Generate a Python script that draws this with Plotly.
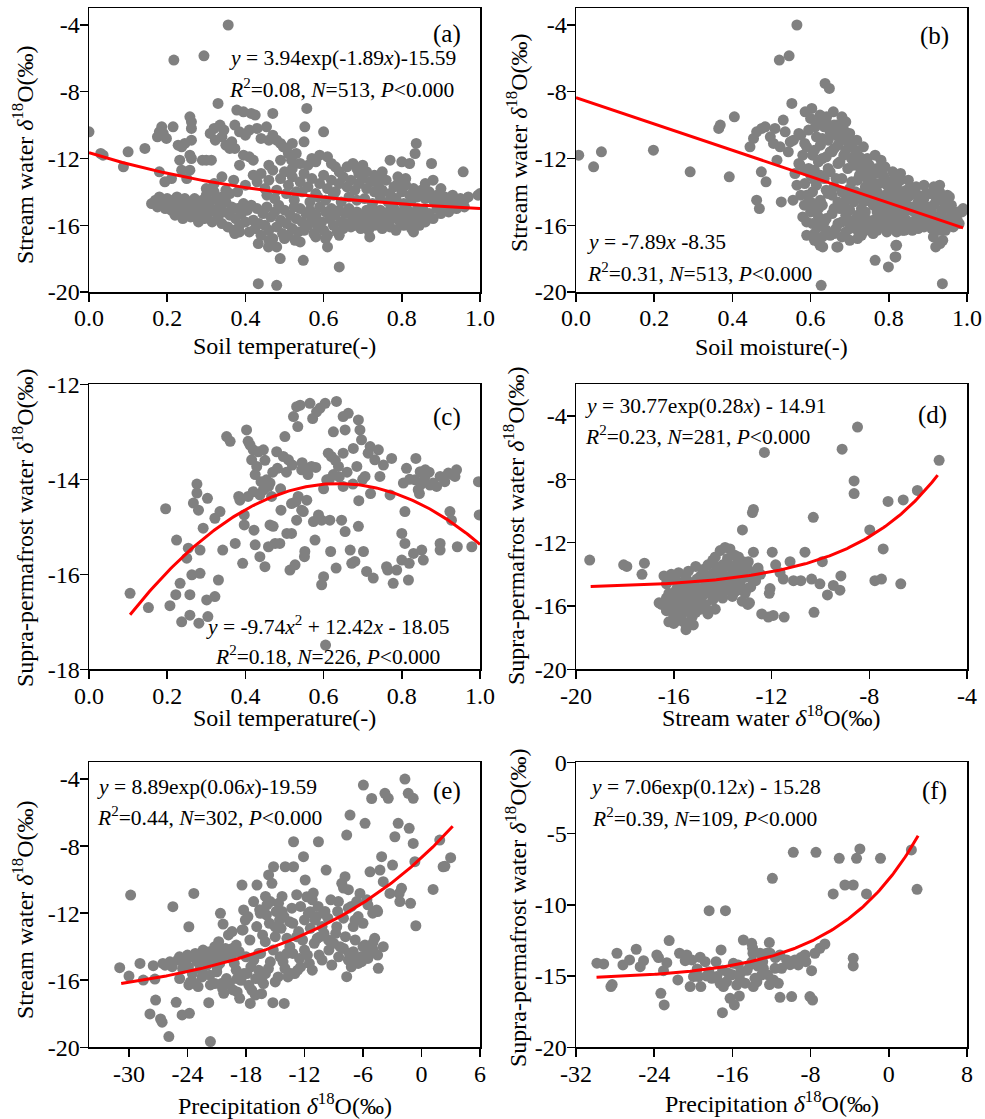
import numpy as np
import plotly.graph_objects as go

W, H = 985, 1119
FONT = "Liberation Serif"

# ---------------- data ----------------
# (a) Soil temperature vs stream water d18O
a_pts = [
(0.0,-10.4),(0.03,-11.7),(0.036,-11.8),(0.10,-11.6),(0.088,-12.5),(0.143,-11.4),
(0.356,-4.0),(0.217,-6.1),(0.294,-5.85),
(0.33,-8.7),(0.378,-9.1),(0.395,-9.2),(0.415,-9.3),(0.425,-9.4),(0.47,-9.3),(0.557,-9.0),
(0.258,-9.5),(0.262,-9.8),(0.262,-10.2),(0.186,-10.1),(0.18,-10.4),(0.175,-10.7),(0.198,-10.8),(0.215,-10.1),(0.19,-10.5),
(0.31,-10.5),(0.32,-10.2),(0.335,-10.0),(0.345,-10.3),(0.34,-10.7),(0.323,-10.9),(0.35,-11.2),(0.36,-11.4),(0.373,-11.4),(0.365,-11.0),
(0.373,-10.0),(0.385,-10.4),(0.40,-10.6),(0.41,-10.3),(0.43,-10.2),(0.44,-10.8),(0.454,-10.1),(0.46,-10.9),(0.47,-10.6),(0.48,-10.9),
(0.49,-11.1),(0.497,-11.3),(0.505,-11.4),(0.51,-11.7),(0.52,-11.1),(0.53,-11.7),(0.518,-12.1),(0.54,-12.3),(0.55,-11.0),
(0.552,-10.1),(0.60,-10.4),(0.228,-11.2),(0.237,-11.3),(0.245,-11.1),(0.262,-10.9),(0.258,-11.8),(0.232,-12.1),(0.262,-12.0),
(0.30,-12.1),(0.29,-12.1),(0.313,-12.1),(0.395,-11.8),(0.41,-11.9),(0.42,-12.1),(0.385,-12.4),
(0.57,-12.0),(0.58,-12.2),(0.56,-12.4),(0.59,-11.8),(0.61,-11.9),(0.62,-12.3),(0.63,-12.5),
(0.675,-12.3),(0.685,-12.6),(0.69,-12.9),(0.70,-12.4),(0.744,-13.2),(0.77,-12.1),(0.80,-12.2),(0.82,-12.3),(0.834,-11.7),(0.837,-11.1),
(0.876,-12.3),(0.957,-12.8),(0.995,-14.2),(1.0,-14.1),
(0.18,-12.8),(0.194,-13.4),(0.211,-13.2),(0.237,-12.7),(0.258,-12.7),(0.25,-13.2),
(0.30,-13.8),(0.32,-13.5),(0.34,-13.1),(0.35,-13.9),(0.37,-13.3),(0.38,-14.0),(0.40,-13.6),(0.42,-13.0),(0.43,-13.4),(0.44,-12.9),
(0.45,-13.8),(0.46,-13.3),(0.47,-12.7),(0.48,-13.9),(0.49,-13.2),(0.50,-12.8),(0.51,-13.6),(0.52,-13.1),(0.53,-14.0),(0.54,-13.4),
(0.55,-12.9),(0.56,-13.7),(0.57,-13.2),(0.58,-14.1),(0.59,-13.5),(0.60,-13.0),(0.61,-13.8),(0.62,-13.3),(0.63,-14.0),(0.64,-13.5),
(0.65,-13.1),(0.66,-13.7),(0.67,-13.3),(0.68,-13.9),(0.69,-13.5),(0.70,-13.2),(0.71,-13.8),(0.72,-13.4),(0.73,-14.0),(0.74,-13.6),
(0.75,-13.9),(0.76,-13.3),(0.77,-14.1),(0.78,-13.7),(0.79,-13.5),(0.80,-14.0),(0.81,-13.6),(0.82,-14.2),(0.83,-13.8),(0.84,-14.3),
(0.85,-13.9),(0.86,-14.4),(0.87,-14.0),(0.88,-14.5),(0.89,-14.2),(0.90,-14.6),(0.91,-14.3),(0.92,-14.5),(0.93,-14.2),(0.94,-14.6),
(0.95,-14.4),(0.96,-14.5),(0.97,-14.3),
(0.455,-14.2),(0.475,-14.4),(0.505,-14.1),(0.525,-14.5),(0.545,-14.0),(0.565,-14.6),(0.585,-14.3),(0.605,-14.5),(0.625,-14.2),
(0.645,-14.6),(0.665,-14.3),(0.685,-14.5),(0.705,-14.4),(0.725,-14.7),(0.745,-14.3),(0.765,-14.6),(0.785,-14.4),(0.805,-14.7),(0.825,-14.5),
(0.46,-12.4),(0.49,-12.1),(0.52,-12.6),(0.64,-12.8),(0.66,-12.5),(0.71,-12.8),(0.73,-13.0),(0.75,-12.8),(0.79,-13.1),(0.81,-13.2),
(0.86,-13.5),(0.88,-13.3),(0.90,-13.8),
(0.16,-14.7),(0.17,-14.5),(0.175,-14.9),(0.18,-14.3),(0.19,-14.7),(0.195,-15.0),(0.20,-14.4),(0.205,-14.8),(0.21,-15.1),(0.215,-14.5),
(0.22,-14.9),(0.225,-14.3),(0.23,-15.2),(0.235,-14.6),(0.24,-15.0),(0.245,-14.4),(0.25,-14.8),(0.255,-15.3),(0.26,-14.6),(0.265,-15.0),
(0.27,-14.4),(0.275,-15.5),(0.28,-14.8),(0.285,-15.2),(0.29,-14.5),(0.295,-15.6),(0.30,-14.9),(0.305,-15.3),(0.31,-14.6),(0.315,-15.8),
(0.32,-15.1),(0.325,-14.4),(0.33,-15.5),(0.335,-14.8),(0.34,-15.9),(0.345,-15.2),(0.35,-14.6),(0.355,-16.1),(0.36,-15.4),(0.365,-14.9),
(0.37,-16.3),(0.375,-15.6),(0.38,-15.0),(0.385,-16.0),(0.39,-15.3),(0.395,-14.7),(0.40,-15.8),
(0.22,-15.4),(0.24,-15.6),(0.26,-15.5),(0.28,-15.8),(0.30,-14.2),(0.32,-14.0),(0.34,-14.3),(0.36,-14.1),
(0.405,-15.1),(0.41,-16.4),(0.415,-14.8),(0.42,-15.7),(0.425,-16.2),(0.43,-15.0),(0.435,-15.9),(0.44,-16.6),(0.445,-15.3),(0.45,-16.0),
(0.455,-14.9),(0.46,-16.3),(0.465,-15.5),(0.47,-16.8),(0.475,-15.2),(0.48,-16.1),(0.485,-14.8),(0.49,-15.7),(0.495,-16.5),(0.50,-15.1),
(0.505,-15.9),(0.51,-16.6),(0.515,-15.4),(0.52,-16.2),(0.525,-14.9),(0.53,-15.6),(0.535,-16.4),(0.54,-15.0),(0.545,-15.8),(0.55,-16.3),
(0.555,-15.3),(0.56,-16.0),(0.565,-15.1),(0.57,-15.7),(0.575,-16.5),(0.58,-15.4),(0.585,-16.1),(0.59,-14.9),(0.595,-15.8),(0.60,-16.3),
(0.605,-15.2),(0.61,-16.6),(0.615,-15.6),(0.62,-15.0),(0.625,-16.0),(0.63,-15.4),(0.635,-16.4),(0.64,-15.1),(0.645,-15.8),(0.65,-16.2),
(0.655,-15.3),(0.66,-15.9),(0.665,-15.0),(0.67,-16.1),(0.675,-15.5),(0.68,-16.0),(0.685,-15.2),(0.69,-15.8),(0.695,-16.2),(0.70,-15.4),
(0.705,-15.9),(0.71,-15.1),(0.715,-16.3),(0.72,-15.6),(0.725,-15.0),(0.73,-16.0),(0.735,-15.4),(0.74,-15.8),(0.745,-15.1),(0.75,-16.2),
(0.755,-15.5),(0.76,-15.9),(0.765,-15.2),(0.77,-16.1),(0.775,-15.6),(0.78,-15.0),(0.785,-16.3),(0.79,-15.4),(0.795,-15.8),(0.80,-15.2),
(0.805,-16.0),(0.81,-15.5),(0.815,-15.1),(0.82,-15.8),(0.825,-16.2),(0.83,-15.3),(0.835,-15.7),(0.84,-15.0),(0.845,-16.0),(0.85,-15.4),
(0.855,-15.1),(0.86,-15.8),(0.87,-15.3),(0.88,-15.6),(0.89,-15.0),(0.90,-15.3),(0.91,-14.9),(0.92,-15.2),(0.93,-14.8),(0.94,-15.0),
(0.95,-14.7),(0.96,-14.9),
(0.433,-17.1),(0.433,-19.5),(0.48,-19.6),(0.489,-18.0),(0.548,-18.1),(0.64,-18.5),(0.61,-17.3),(0.605,-16.8),(0.527,-16.9),(0.459,-17.3),
(0.48,-17.3),(0.373,-16.5),(0.385,-16.4),(0.54,-17.0),(0.718,-16.7),(0.83,-16.4),(0.46,-16.9),(0.50,-16.8),(0.58,-16.7),(0.64,-16.6),
]

# (b) Soil moisture vs stream water d18O
b_pts = [
(0.565,-4.0),(0.52,-6.1),(0.545,-5.85),(0.637,-7.5),(0.648,-7.8),(0.552,-8.7),(0.007,-11.8),(0.045,-12.5),(0.065,-11.6),(0.198,-11.5),
(0.292,-12.8),(0.392,-13.1),(0.365,-10.2),(0.369,-10.0),(0.405,-9.5),(0.462,-14.5),(0.469,-15.0),(0.474,-12.8),(0.486,-13.4),(0.525,-14.6),
(0.555,-14.5),(0.584,-14.8),(0.765,-18.1),(0.799,-18.5),(0.818,-17.9),(0.818,-17.2),(0.631,-17.3),(0.667,-17.3),(0.627,-19.6),(0.937,-19.5),
(0.92,-17.3),(0.938,-16.9),
(0.445,-11.3),(0.454,-10.8),(0.462,-10.4),(0.475,-10.2),(0.484,-10.1),(0.497,-10.7),(0.509,-10.2),(0.53,-9.7),(0.535,-10.4),(0.505,-11.1),
(0.522,-11.3),(0.514,-12.1),(0.543,-11.6),(0.548,-11.0),(0.556,-10.9),(0.57,-10.5),(0.586,-9.2),(0.603,-9.0),(0.59,-11.3),(0.573,-12.4),
(0.586,-12.7),(0.612,-10.1),(0.624,-9.4),(0.641,-9.5),(0.658,-9.2),(0.68,-9.5),(0.667,-10.0),(0.68,-10.4),(0.692,-10.9),(0.718,-10.9),
(0.58,-11.8),(0.585,-13.5),(0.59,-14.2),(0.595,-12.6),(0.60,-13.0),(0.60,-15.2),(0.605,-14.0),(0.61,-11.5),(0.61,-16.5),(0.615,-13.6),
(0.62,-12.2),(0.62,-15.0),(0.625,-14.5),(0.63,-10.8),(0.63,-16.7),(0.635,-13.2),(0.64,-11.9),(0.64,-15.6),
(0.645,-14.1),(0.65,-10.4),(0.65,-12.8),(0.655,-15.3),(0.66,-11.4),(0.66,-13.7),(0.665,-16.2),(0.67,-12.3),(0.67,-14.6),(0.675,-10.9),
(0.68,-13.2),(0.68,-15.8),(0.685,-11.8),(0.69,-14.2),(0.69,-16.4),(0.695,-12.6),(0.70,-13.8),(0.70,-15.1),
(0.705,-11.3),(0.71,-14.6),(0.71,-12.4),(0.715,-16.0),(0.72,-13.3),(0.72,-15.4),(0.725,-11.9),(0.73,-14.1),(0.73,-16.6),(0.735,-12.8),
(0.74,-13.7),(0.74,-15.2),(0.745,-14.5),(0.75,-12.4),(0.75,-16.1),(0.755,-13.3),(0.76,-14.8),(0.76,-15.7),
(0.765,-12.9),(0.77,-14.0),(0.77,-16.3),(0.775,-13.5),(0.78,-15.1),(0.78,-12.1),(0.785,-14.4),(0.79,-15.9),(0.79,-13.2),(0.795,-14.8),
(0.80,-13.7),(0.80,-16.2),(0.805,-15.3),(0.81,-14.1),(0.81,-12.8),(0.815,-15.7),(0.82,-13.6),(0.82,-14.9),(0.825,-16.0),(0.83,-14.3),
(0.83,-13.3),(0.835,-15.4),(0.84,-14.6),(0.84,-16.3),(0.845,-13.9),(0.85,-15.1),
(0.855,-14.2),(0.86,-15.8),(0.865,-13.8),(0.87,-15.0),(0.875,-16.2),(0.88,-14.4),(0.885,-15.5),(0.89,-13.6),(0.895,-14.9),(0.90,-16.0),
(0.905,-14.1),(0.91,-15.3),(0.915,-13.7),(0.92,-14.6),(0.925,-15.8),(0.93,-14.0),(0.935,-15.1),(0.94,-14.4),(0.945,-16.3),(0.95,-15.0),
(0.955,-15.6),(0.96,-14.8),(0.965,-16.1),(0.975,-15.7),(0.987,-15.2),(0.99,-15.0),
(0.59,-15.8),(0.60,-14.6),(0.61,-13.3),(0.62,-16.1),(0.63,-14.8),(0.64,-13.9),(0.65,-16.6),(0.66,-15.0),(0.67,-15.9),(0.68,-14.0),
(0.69,-15.4),(0.70,-14.4),(0.71,-15.7),(0.72,-14.2),(0.73,-15.0),(0.74,-16.3),(0.75,-14.0),(0.76,-13.6),(0.77,-15.2),(0.78,-16.0),
(0.79,-14.2),(0.80,-15.0),(0.81,-16.1),(0.82,-15.5),(0.83,-16.2),(0.84,-15.2),(0.85,-14.3),(0.86,-14.9),(0.87,-14.1),(0.88,-15.9),
(0.89,-16.1),(0.90,-15.0),(0.91,-16.2),(0.92,-15.5),(0.93,-16.3),(0.94,-15.6),(0.95,-14.2),(0.96,-15.5),
(0.725,-13.0),(0.745,-13.2),(0.765,-14.3),(0.785,-13.0),(0.805,-14.4),(0.825,-15.0),(0.845,-15.7),(0.865,-16.0),(0.885,-14.7),(0.905,-15.6),
(0.775,-15.6),(0.795,-16.4),(0.815,-14.4),(0.835,-14.0),(0.855,-15.9),(0.875,-14.6),(0.895,-15.3),(0.915,-14.8),(0.935,-14.5),(0.955,-14.3),
(0.575,-10.6),(0.585,-11.1),(0.595,-10.3),(0.605,-11.8),(0.615,-10.7),(0.625,-11.2),(0.635,-10.1),(0.645,-10.9),(0.655,-11.6),(0.665,-10.6),
(0.675,-12.2),(0.685,-10.3),(0.695,-11.0),(0.705,-12.0),(0.715,-11.5),(0.725,-12.5),(0.735,-11.3),(0.745,-12.0),(0.755,-12.7),(0.765,-11.8),
(0.60,-9.6),(0.62,-9.9),(0.64,-9.8),(0.66,-10.0),(0.69,-9.8),(0.70,-10.5),
(0.59,-16.6),(0.61,-16.9),(0.62,-17.0),(0.624,-17.2),(0.67,-17.3),(0.70,-16.9),(0.72,-16.8),(0.816,-17.9),(0.82,-17.2),(0.914,-16.7),
(0.931,-17.1),(0.56,-12.9),(0.565,-13.6),(0.575,-14.2),(0.58,-15.5),(0.57,-12.3),
(0.605,-15.9),(0.615,-14.9),(0.625,-13.0),(0.635,-15.8),(0.645,-12.6),(0.655,-14.2),(0.665,-13.2),(0.675,-15.0),(0.685,-14.7),(0.695,-15.8),
(0.705,-13.4),(0.715,-14.0),(0.725,-15.9),(0.735,-14.6),(0.745,-15.7),(0.755,-14.6),(0.765,-16.0),(0.775,-14.8),(0.785,-15.6),(0.795,-13.6),
(0.805,-16.0),(0.815,-13.2),(0.825,-14.2),(0.835,-16.3),(0.845,-14.8),(0.855,-13.7),(0.865,-15.2),(0.875,-15.7),(0.885,-16.0),(0.895,-14.1),
(0.905,-14.9),(0.915,-16.0),(0.925,-14.3),(0.935,-15.8),(0.945,-15.0),(0.955,-16.0),(0.965,-15.3),(0.975,-15.2),(0.98,-15.9),
(0.61,-12.7),(0.63,-12.0),(0.65,-11.6),(0.67,-11.2),(0.69,-11.5),(0.71,-11.9),(0.73,-12.3),(0.75,-13.1),(0.77,-12.6),(0.79,-12.5),
(0.81,-13.4),(0.83,-12.9),(0.85,-13.3),(0.87,-13.7),(0.89,-14.4),(0.91,-14.1),(0.93,-13.6),
(0.62,-15.5),(0.64,-16.3),(0.66,-16.5),(0.68,-16.7),(0.70,-16.2),(0.72,-16.3),(0.74,-15.6),(0.76,-16.5),(0.78,-15.4),(0.80,-15.5),
(0.82,-16.4),(0.84,-15.7),(0.86,-16.3),(0.88,-15.2),(0.90,-15.4),(0.92,-16.1),
]

# (c) Soil temperature vs supra-permafrost water d18O
c_pts = [
(0.105,-16.4),(0.152,-16.7),(0.196,-14.62),(0.207,-16.66),(0.224,-15.28),(0.222,-16.43),(0.233,-16.19),(0.237,-17.0),(0.25,-15.66),(0.254,-15.45),
(0.258,-16.43),(0.258,-16.86),(0.263,-16.01),(0.267,-14.5),(0.276,-14.29),(0.276,-14.1),(0.28,-14.65),(0.284,-15.98),(0.281,-17.03),(0.292,-15.03),
(0.303,-14.4),(0.301,-16.54),(0.304,-16.89),(0.322,-14.82),(0.322,-16.47),(0.331,-16.12),(0.335,-14.68),(0.342,-15.49),(0.352,-13.1),(0.361,-13.2),
(0.374,-15.35),(0.383,-14.36),(0.386,-14.44),(0.393,-15.77),(0.397,-14.75),(0.397,-14.96),(0.403,-12.96),(0.407,-13.2),(0.412,-13.28),(0.416,-13.59),
(0.42,-13.38),(0.422,-15.07),(0.425,-15.38),(0.429,-13.73),(0.433,-13.42),(0.437,-15.63),(0.446,-14.22),(0.446,-13.38),(0.45,-15.84),(0.454,-14.01),
(0.459,-15.42),(0.463,-14.96),(0.463,-14.08),(0.471,-14.99),(0.476,-15.35),(0.48,-13.42),(0.482,-13.77),(0.488,-15.35),(0.491,-14.65),(0.497,-13.52),
(0.501,-13.1),(0.506,-15.14),(0.51,-13.59),(0.514,-15.91),(0.518,-15.14),(0.523,-12.68),(0.527,-15.8),(0.529,-14.47),(0.531,-12.47),(0.534,-12.89),
(0.54,-12.44),(0.544,-13.8),(0.548,-14.68),(0.551,-15.63),(0.552,-15.52),(0.557,-13.77),(0.557,-14.44),(0.565,-12.4),(0.569,-13.73),(0.572,-12.72),
(0.574,-14.89),(0.578,-15.28),(0.582,-12.58),(0.587,-14.75),(0.591,-12.5),(0.595,-14.86),(0.595,-16.22),(0.6,-16.05),(0.604,-12.4),(0.608,-14.01),
(0.612,-13.45),(0.616,-14.86),(0.618,-15.52),(0.62,-13.52),(0.625,-13.0),(0.632,-15.87),(0.633,-12.36),(0.638,-13.73),(0.646,-14.86),(0.65,-14.15),
(0.65,-13.45),(0.65,-12.68),(0.655,-12.96),(0.655,-15.1),(0.663,-12.61),(0.668,-15.49),(0.672,-15.77),(0.676,-13.35),(0.68,-15.73),(0.685,-13.73),
(0.689,-12.75),(0.689,-14.99),(0.693,-12.96),(0.697,-13.17),(0.702,-15.52),(0.706,-13.94),(0.71,-15.94),(0.714,-13.45),(0.719,-13.31),(0.727,-16.08),
(0.731,-13.59),(0.74,-13.38),(0.744,-13.94),(0.753,-13.7),(0.761,-15.84),(0.764,-15.91),(0.77,-14.33),(0.774,-13.56),(0.778,-16.19),(0.787,-15.91),
(0.8,-15.14),(0.8,-15.7),(0.804,-14.08),(0.808,-15.35),(0.808,-14.68),(0.812,-13.77),(0.817,-16.12),(0.819,-15.77),(0.83,-15.56),(0.834,-14.01),
(0.836,-13.56),(0.842,-14.22),(0.847,-13.84),(0.851,-15.49),(0.855,-15.7),(0.859,-13.94),(0.86,-13.8),(0.872,-14.12),(0.88,-14.08),(0.889,-14.15),
(0.898,-13.94),(0.898,-15.35),(0.898,-15.49),(0.919,-13.87),(0.923,-14.68),(0.927,-14.86),(0.936,-13.94),(0.94,-13.8),(0.942,-15.42),(0.979,-15.42),
(0.996,-14.05),(0.998,-14.75),(0.605,-17.49),
(0.407,-14.36),(0.42,-14.26),(0.437,-14.33),(0.459,-14.15),(0.467,-14.36),(0.518,-14.51),(0.535,-14.36),(0.544,-14.65),(0.531,-14.86),(0.284,-15.49),
(0.425,-13.9),(0.44,-14.05),(0.45,-13.6),(0.47,-13.85),(0.49,-14.2),(0.505,-13.85),(0.52,-13.7),(0.545,-13.65),(0.56,-13.9),(0.58,-13.75),
(0.63,-13.6),(0.64,-13.95),(0.66,-13.85),(0.675,-14.1),(0.7,-14.0),(0.72,-14.3),(0.69,-14.45),(0.82,-14.0),(0.85,-14.1),(0.87,-13.85),
(0.91,-14.05),(0.93,-13.9),(0.845,-14.3),(0.6,-14.2),(0.615,-14.0),(0.625,-13.9),
]

# (d) Stream water vs supra-permafrost water d18O
d_pts = [
(-19.44,-13.1),(-18.05,-13.4),(-17.92,-13.5),(-17.2,-13.3),(-17.3,-14.0),(-12.29,-6.3),(-8.48,-4.7),(-9.11,-6.1),(-8.62,-8.1),(-8.62,-8.9),
(-5.14,-6.8),(-6.03,-8.7),(-6.61,-9.3),(-7.23,-9.4),(-7.98,-11.2),(-7.43,-12.4),(-7.77,-14.4),(-7.5,-14.3),(-6.71,-14.6),(-10.29,-10.4),
(-10.26,-16.4),(-10.63,-12.6),(-9.92,-13.2),(-9.16,-14.1),(-9.2,-15.0),(-9.47,-14.7),(-9.71,-15.3),(-10.02,-14.6),(-10.36,-14.3),(-10.8,-14.4),
(-11.24,-13.2),(-11.1,-14.4),(-11.52,-14.3),(-11.65,-13.9),(-11.83,-13.4),(-11.97,-12.6),(-12.06,-14.9),(-12.09,-15.2),(-11.93,-16.6),(-12.13,-16.7),
(-12.4,-16.5),(-11.48,-16.7),(-12.74,-9.9),(-12.78,-10.1),(-13.19,-11.2),(-12.74,-12.6),(-12.97,-15.9),(-13.08,-15.2),
(-16.6,-15.8),(-16.5,-15.9),(-16.4,-14.1),(-16.3,-14.6),(-16.3,-16.3),(-16.2,-17.0),(-16.2,-15.2),(-16.1,-14.0),(-16.0,-15.6),(-16.0,-16.6),
(-15.9,-14.4),(-15.9,-15.0),(-15.8,-16.1),(-15.8,-13.9),(-15.7,-15.4),(-15.7,-16.8),(-15.6,-14.6),(-15.6,-15.9),(-15.5,-17.5),(-15.5,-14.2),
(-15.5,-16.3),(-15.4,-15.1),(-15.4,-13.8),(-15.3,-17.05),(-15.3,-16.0),(-15.2,-14.5),(-15.2,-15.6),(-15.1,-13.5),(-15.1,-16.4),(-15.0,-14.9),
(-15.0,-15.8),(-14.9,-14.1),(-14.9,-16.2),(-14.8,-13.7),(-14.8,-15.3),(-14.7,-14.6),(-14.7,-15.9),(-14.6,-13.4),(-14.6,-16.3),(-14.5,-14.2),
(-14.5,-15.1),(-14.4,-13.1),(-14.4,-15.6),(-14.3,-14.6),(-14.3,-12.9),(-14.2,-15.2),(-14.2,-13.8),(-14.1,-12.5),(-14.1,-14.3),(-14.0,-15.5),
(-14.0,-13.4),(-13.9,-12.3),(-13.9,-14.8),(-13.8,-13.0),(-13.8,-15.0),(-13.7,-12.4),(-13.7,-14.1),(-13.6,-13.6),(-13.6,-15.4),(-13.5,-12.8),
(-13.5,-14.5),(-13.4,-13.3),(-13.4,-15.0),(-13.3,-13.9),(-13.3,-14.6),(-13.2,-13.6),(-13.2,-15.7),(-13.1,-14.2),(-13.0,-13.5),(-13.0,-14.9),
(-12.9,-13.8),(-12.9,-15.8),(-12.8,-14.3),
(-16.1,-15.9),(-15.95,-16.3),(-15.85,-14.8),(-15.75,-15.2),(-15.65,-16.5),(-15.45,-15.4),(-15.35,-14.7),(-15.25,-16.7),(-15.15,-15.0),(-15.05,-14.3),
(-14.95,-15.5),(-14.85,-16.0),(-14.75,-14.0),(-14.65,-15.0),(-14.55,-14.8),(-14.45,-14.0),(-14.35,-14.9),(-14.25,-13.5),(-14.15,-14.9),(-14.05,-13.9),
(-13.95,-13.6),(-13.85,-14.4),(-13.75,-13.4),(-13.65,-14.9),(-13.55,-13.9),(-13.45,-14.1),(-13.35,-12.9),(-13.25,-14.3),(-13.15,-13.2),(-13.05,-14.0),
(-12.95,-13.2),(-12.85,-14.8),(-12.75,-13.9),(-12.65,-14.4),(-12.55,-13.6),(-12.45,-14.0),
(-15.6,-17.0),(-15.2,-17.2),(-16.0,-17.1),(-15.8,-16.9),(-14.6,-16.5),(-14.3,-16.2),
(-16.3,-15.5),(-16.2,-14.4),(-15.9,-15.5),(-15.6,-15.1),(-15.3,-15.2),(-15.0,-15.2),(-14.7,-15.2),(-14.4,-14.4),(-14.1,-14.7),(-13.8,-14.7),
(-13.5,-15.1),
]

# (e) Precipitation vs stream water d18O
e_pts = [
(-30.95,-15.25),(-30.0,-15.75),(-29.83,-10.92),(-28.87,-15.0),(-28.53,-15.99),(-27.51,-15.13),(-27.34,-15.93),(-27.27,-17.18),(-27.85,-18.01),(-26.76,-18.31),
(-26.6,-18.5),(-26.52,-15.0),(-25.91,-19.36),(-25.57,-15.19),(-25.5,-11.61),(-25.16,-17.32),(-24.82,-14.6),(-24.55,-18.07),(-24.2,-14.69),(-23.86,-12.81),
(-23.8,-17.97),(-23.86,-16.28),(-23.6,-14.6),(-23.35,-10.82),(-23.25,-16.18),(-22.91,-16.38),(-22.74,-14.63),(-22.5,-15.39),(-21.82,-17.34),(-21.72,-14.3),
(-21.65,-16.28),(-21.65,-19.66),(-21.3,-14.9),(-20.97,-15.23),(-20.8,-14.5),(-20.62,-12.01),(-20.45,-16.18),(-20.35,-12.65),(-20.28,-16.78),(-20.11,-14.1),
(-19.6,-14.4),(-19.43,-13.1),(-19.33,-16.58),(-18.9,-15.9),(-18.75,-14.3),(-18.65,-17.08),(-18.41,-10.32),(-18.4,-13.0),(-18.24,-11.81),(-18.07,-12.41),
(-17.9,-15.6),(-17.56,-17.38),(-17.22,-11.31),(-17.04,-16.88),(-16.87,-10.32),(-16.7,-14.4),(-16.53,-12.01),(-16.4,-16.0),(-16.02,-13.7),(-15.85,-11.51),
(-15.68,-9.72),(-15.51,-11.31),(-15.34,-10.22),(-15.24,-17.34),(-15.17,-9.23),(-15.0,-12.81),(-14.66,-11.41),(-14.56,-12.41),(-14.3,-11.9),(-14.08,-17.38),
(-13.98,-9.23),(-13.8,-14.4),(-13.53,-12.51),(-13.4,-15.6),(-13.12,-9.23),(-13.12,-7.74),(-12.8,-13.4),(-12.4,-15.2),(-12.1,-8.63),(-11.93,-10.02),
(-11.76,-11.02),(-11.42,-11.91),(-11.2,-11.2),(-10.91,-12.41),(-10.57,-7.74),(-10.4,-13.4),(-10.05,-12.01),(-9.78,-9.43),(-9.54,-13.6),(-9.2,-15.09),
(-8.69,-12.81),(-8.52,-11.31),(-8.35,-14.0),(-8.18,-10.22),(-8.0,-10.5),(-7.84,-9.82),(-7.67,-7.34),(-7.67,-15.79),(-7.5,-10.6),(-7.4,-14.4),
(-7.33,-6.15),(-7.2,-11.6),(-7.0,-14.8),(-6.82,-12.41),(-6.65,-11.31),(-6.31,-10.82),(-6.14,-14.89),(-5.96,-4.36),(-5.79,-6.64),(-5.8,-14.0),
(-5.6,-11.2),(-5.45,-14.4),(-5.28,-9.53),(-5.11,-5.16),(-4.94,-14.2),(-4.6,-11.81),(-4.43,-15.29),(-4.26,-9.43),(-4.09,-8.63),(-3.92,-14.0),
(-3.92,-10.12),(-3.75,-4.85),(-3.41,-5.15),(-3.24,-10.82),(-2.97,-9.13),(-2.73,-7.44),(-2.39,-6.64),(-2.29,-10.82),(-2.22,-11.31),(-2.05,-10.52),
(-1.7,-4.0),(-1.36,-4.85),(-1.26,-6.94),(-1.12,-11.41),(-0.85,-5.15),(-0.85,-7.84),(-0.68,-8.93),(-0.58,-12.75),(1.19,-10.58),(1.87,-7.64),
(2.22,-9.23),(2.4,-9.2),(2.99,-8.69),
(-25.0,-14.8),(-24.5,-15.3),(-24.0,-14.5),(-23.5,-15.6),(-23.0,-14.9),(-22.5,-15.8),(-22.0,-15.1),(-21.5,-14.6),(-21.0,-15.5),(-20.5,-14.2),
(-20.0,-15.9),(-19.5,-14.7),(-19.0,-15.4),(-18.5,-16.0),(-18.0,-14.6),(-17.5,-15.2),(-17.0,-15.9),(-16.5,-14.4),(-16.0,-15.6),(-15.5,-14.9),
(-15.0,-16.1),(-14.5,-14.6),(-14.0,-15.3),(-13.5,-14.0),(-13.0,-15.6),(-12.5,-14.7),(-12.0,-14.2),(-11.5,-15.0),(-11.0,-13.8),(-10.5,-14.5),
(-10.0,-13.2),
(-24.8,-15.9),(-24.2,-14.9),(-23.7,-16.1),(-23.2,-14.4),(-22.7,-15.3),(-22.2,-14.7),(-21.7,-15.7),(-21.2,-16.2),(-20.7,-15.0),(-20.2,-14.6),
(-19.7,-16.2),(-19.2,-15.0),(-18.7,-14.3),(-18.2,-15.6),(-17.7,-16.3),(-17.2,-14.8),(-16.7,-15.4),(-16.2,-16.2),(-15.7,-15.3),(-15.2,-14.2),
(-14.7,-15.8),(-14.2,-14.9),(-13.7,-15.8),(-13.2,-14.4),(-12.7,-15.4),(-12.2,-13.6),(-11.7,-14.5),(-11.2,-15.4),(-10.7,-13.5),(-10.2,-14.8),
(-20.8,-13.7),(-19.8,-13.3),(-19.0,-13.9),(-18.3,-13.0),(-17.6,-13.6),(-16.9,-12.8),(-16.3,-13.3),(-15.6,-12.6),(-15.0,-13.4),(-14.4,-12.9),
(-13.8,-13.5),(-13.2,-12.6),(-12.6,-13.1),(-12.0,-12.4),(-11.4,-12.9),(-10.8,-12.2),(-10.2,-12.8),(-9.6,-12.3),(-17.8,-12.2),(-16.6,-11.8),
(-15.9,-12.1),(-14.9,-11.9),(-14.1,-12.2),(-13.3,-11.7),(-12.4,-11.6),(-11.6,-12.0),(-10.6,-11.6),(-9.9,-11.9),(-16.0,-11.0),(-14.3,-11.0),
(-12.8,-10.9),(-11.1,-10.8),(-9.3,-11.2),(-8.6,-11.9),(-8.0,-12.3),(-7.5,-11.7),(-7.0,-12.8),(-6.5,-12.2),(-6.0,-12.6),(-5.5,-11.5),
(-5.0,-12.0),(-4.5,-11.9),
(-9.5,-14.2),(-9.0,-13.8),(-8.5,-14.6),(-8.0,-14.1),(-7.5,-14.8),(-7.0,-14.3),(-6.5,-15.0),(-6.0,-14.0),(-5.5,-14.7),(-5.0,-13.8),
(-4.5,-14.5),(-8.8,-13.2),(-7.8,-13.4),(-6.8,-13.6),(-5.8,-13.9),(-4.8,-13.5),(-6.2,-14.6),(-7.2,-15.2),(-5.2,-14.2),
(-22.4,-14.2),(-21.2,-14.0),(-19.4,-14.1),(-25.8,-14.9),(-26.3,-15.1),(-23.9,-15.2),(-17.4,-16.6),(-16.4,-16.8),(-18.9,-16.7),(-20.4,-16.5),
]

# (f) Precipitation vs supra-permafrost water d18O
f_pts = [
(-29.86,-14.1),(-29.17,-14.15),(-28.43,-15.74),(-28.3,-15.6),(-27.81,-13.4),(-27.2,-14.22),(-26.52,-13.87),(-25.84,-13.12),(-25.43,-14.34),(-25.09,-13.92),
(-23.73,-13.52),(-23.56,-13.7),(-23.32,-16.21),(-23.05,-14.62),(-22.98,-17.03),(-22.71,-14.06),(-22.47,-12.51),(-21.58,-15.27),(-21.41,-13.4),(-20.83,-13.92),
(-20.66,-13.52),(-20.32,-15.74),(-20.15,-13.87),(-19.98,-15.04),(-19.47,-15.04),(-19.3,-13.68),(-19.23,-15.74),(-18.79,-13.99),(-18.62,-15.0),(-18.38,-10.41),
(-18.11,-15.16),(-17.67,-13.99),(-17.6,-15.04),(-17.26,-15.51),(-17.16,-13.17),(-17.02,-17.57),(-16.92,-15.74),(-16.71,-10.41),(-16.41,-14.81),(-16.24,-16.56),
(-15.9,-14.11),(-15.8,-17.03),(-15.56,-15.63),(-15.4,-14.22),(-15.29,-16.4),(-15.15,-14.76),(-14.88,-12.47),(-14.2,-14.22),(-14.03,-12.7),(-13.93,-13.05),
(-13.86,-15.74),(-13.69,-15.16),(-13.17,-13.4),(-13.0,-14.92),(-12.83,-14.46),(-12.49,-13.4),(-12.22,-12.65),(-12.15,-13.4),(-11.91,-8.14),(-11.81,-15.27),
(-11.64,-14.46),(-11.3,-15.51),(-11.13,-16.49),(-10.96,-14.46),(-11.13,-13.52),(-10.45,-13.87),(-9.94,-16.44),(-9.77,-6.32),(-9.6,-13.87),(-9.26,-14.22),
(-8.58,-13.52),(-8.48,-13.99),(-8.07,-16.44),(-7.9,-14.62),(-7.8,-16.68),(-7.45,-6.32),(-7.56,-13.4),(-7.05,-13.05),(-6.54,-12.75),(-5.69,-9.24),
(-5.07,-6.74),(-4.49,-8.61),(-3.64,-8.61),(-3.64,-13.75),(-3.64,-14.29),(-3.3,-6.74),(-2.96,-6.08),(-2.28,-9.24),(-0.85,-6.74),(2.31,-6.15),
(2.89,-8.91),
(-14.5,-14.6),(-13.4,-14.3),(-14.0,-14.0),(-12.9,-14.0),(-15.2,-15.3),(-16.0,-14.9),(-17.0,-14.6),(-18.4,-14.7),(-19.6,-14.5),(-12.4,-14.9),
(-13.5,-15.4),(-14.7,-15.5),(-16.6,-15.4),(-12.2,-15.6),(-10.1,-14.2),(-9.0,-13.7),(-11.6,-13.7),(-13.9,-13.4),
]

# fitted curves drawn over the x-span seen in the picture
a_fit = dict(kind="exp", A=3.94, B=-1.89, C=-15.59, x0=0.0, x1=1.0)
b_fit = dict(kind="lin", m=-7.89, c=-8.35, x0=0.0, x1=0.99)
c_fit = dict(kind="quad", p2=-9.74, p1=12.42, p0=-18.05, x0=0.105, x1=1.0)
d_fit = dict(kind="exp", A=30.77, B=0.28, C=-14.91, x0=-19.4, x1=-5.2)
e_fit = dict(kind="exp", A=8.89, B=0.06, C=-17.59, x0=-30.8, x1=3.2)  # curve as drawn in the figure
f_fit = dict(kind="exp", A=7.06, B=0.12, C=-15.28, x0=-29.9, x1=3.0)

# axis ticks
t01 = [0, 0.2, 0.4, 0.6, 0.8, 1.0]
t01_txt = ["0.0", "0.2", "0.4", "0.6", "0.8", "1.0"]
y_20_4 = [-20, -16, -12, -8, -4]
y_20_4_txt = ["-20", "-16", "-12", "-8", "-4"]
y_c = [-18, -16, -14, -12]
y_c_txt = ["-18", "-16", "-14", "-12"]
x_e = [-30, -24, -18, -12, -6, 0, 6]
x_e_txt = ["-30", "-24", "-18", "-12", "-6", "0", "6"]
x_f = [-32, -24, -16, -8, 0, 8]
x_f_txt = ["-32", "-24", "-16", "-8", "0", "8"]
y_f = [-20, -15, -10, -5, 0]
y_f_txt = ["-20", "-15", "-10", "-5", "0"]

D18 = "<i>δ</i><sup>18</sup>O(‰)"
labels = ["(a)", "(b)", "(c)", "(d)", "(e)", "(f)"]
xtitles = ["Soil temperature(-)", "Soil moisture(-)", "Soil temperature(-)",
           "Stream water " + D18, "Precipitation " + D18, "Precipitation " + D18]
ytitles = ["Stream water " + D18, "Stream water " + D18,
           "Supra-permafrost water " + D18, "Supra-permafrost water " + D18,
           "Stream water " + D18, "Supra-permafrost water " + D18]
eq1 = ["<i>y</i> = 3.94exp(-1.89<i>x</i>)-15.59",
       "<i>y</i> = -7.89<i>x</i> -8.35",
       "<i>y</i> = -9.74<i>x</i><sup>2</sup> + 12.42<i>x</i> - 18.05",
       "<i>y</i> = 30.77exp(0.28<i>x</i>) - 14.91",
       "<i>y</i> = 8.89exp(0.06<i>x</i>)-19.59",
       "<i>y</i> = 7.06exp(0.12<i>x</i>) - 15.28"]
eq2 = ["<i>R</i><sup>2</sup>=0.08, <i>N</i>=513, <i>P</i>&lt;0.000",
       "<i>R</i><sup>2</sup>=0.31, <i>N</i>=513, <i>P</i>&lt;0.000",
       "<i>R</i><sup>2</sup>=0.18, <i>N</i>=226, <i>P</i>&lt;0.000",
       "<i>R</i><sup>2</sup>=0.23, <i>N</i>=281, <i>P</i>&lt;0.000",
       "<i>R</i><sup>2</sup>=0.44, <i>N</i>=302, <i>P</i>&lt;0.000",
       "<i>R</i><sup>2</sup>=0.39, <i>N</i>=109, <i>P</i>&lt;0.000"]

# ---------------- layout (pixel geometry) ----------------
COLS = [(89, 480), (576, 967)]
ROWS = [(8.3, 292), (384.3, 669.3), (762.3, 1047.3)]

panels = [
    dict(pts=a_pts, fit=a_fit, xr=[0, 1], yr=[-20, -3], xt=(t01, t01_txt), yt=(y_20_4, y_20_4_txt), r=0, c=0,
         e1=(227, 58, "left"), e2=(227, 88.5, "left"), lab=(446.5, 34), xtitle_y=346, ytitle=(23, 155)),
    dict(pts=b_pts, fit=b_fit, xr=[0, 1], yr=[-20, -3], xt=(t01, t01_txt), yt=(y_20_4, y_20_4_txt), r=0, c=1,
         e1=(585, 242, "left"), e2=(585, 273, "left"), lab=(934.5, 36), xtitle_y=347, ytitle=(517, 143)),
    dict(pts=c_pts, fit=c_fit, xr=[0, 1], yr=[-18, -12], xt=(t01, t01_txt), yt=(y_c, y_c_txt), r=1, c=0,
         e1=(327, 625, "center"), e2=(327, 655, "center"), lab=(447, 416.5), xtitle_y=718, ytitle=(23, 528)),
    dict(pts=d_pts, fit=d_fit, xr=[-20, -4], yr=[-20, -2], xt=(y_20_4, y_20_4_txt), yt=(y_20_4, y_20_4_txt), r=1, c=1,
         e1=(583, 406, "left"), e2=(583, 436, "left"), lab=(932.5, 414.5), xtitle_y=716, ytitle=(514, 526)),
    dict(pts=e_pts, fit=e_fit, xr=[-34.1, 6], yr=[-20, -3], xt=(x_e, x_e_txt), yt=(y_20_4, y_20_4_txt), r=2, c=0,
         e1=(95, 787, "left"), e2=(95, 816, "left"), lab=(447, 790.5), xtitle_y=1104, ytitle=(23, 910)),
    dict(pts=f_pts, fit=f_fit, xr=[-32, 8], yr=[-20, 0], xt=(x_f, x_f_txt), yt=(y_f, y_f_txt), r=2, c=1,
         e1=(588, 787, "left"), e2=(590, 817, "left"), lab=(934.5, 790.5), xtitle_y=1102, ytitle=(516, 908)),
]


def fx(px):
    return px / W


def fy(py):
    return 1 - py / H


def curve(fit):
    xs = np.linspace(fit["x0"], fit["x1"], 200)
    if fit["kind"] == "exp":
        ys = fit["A"] * np.exp(fit["B"] * xs) + fit["C"]
    elif fit["kind"] == "lin":
        ys = fit["m"] * xs + fit["c"]
    else:
        ys = fit["p2"] * xs ** 2 + fit["p1"] * xs + fit["p0"]
    return xs, ys


fig = go.Figure()
annotations = []
layout = {}


def ann(text, px, py, size, xanchor="left", angle=0):
    return dict(text=text, x=fx(px), y=fy(py), xref="paper", yref="paper",
                xanchor=xanchor, yanchor="middle", showarrow=False, textangle=angle,
                font=dict(family=FONT, size=size, color="black"))


for i, p in enumerate(panels):
    n = "" if i == 0 else str(i + 1)
    xa, ya = "x" + n, "y" + n
    xs = [q[0] for q in p["pts"]]
    ys = [q[1] for q in p["pts"]]
    fig.add_trace(go.Scatter(x=xs, y=ys, mode="markers", xaxis=xa, yaxis=ya, showlegend=False,
                             hoverinfo="skip",
                             marker=dict(size=11, color="#808080", line=dict(width=0))))
    cx, cy = curve(p["fit"])
    fig.add_trace(go.Scatter(x=cx, y=cy, mode="lines", xaxis=xa, yaxis=ya, showlegend=False,
                             hoverinfo="skip", line=dict(color="#ff0000", width=3)))
    c0, c1 = COLS[p["c"]]
    r0, r1 = ROWS[p["r"]]
    common = dict(showline=True, linecolor="black", linewidth=1.5, mirror=True, showgrid=False,
                  zeroline=False, ticks="outside", ticklen=8, tickwidth=1.5, tickcolor="black",
                  tickfont=dict(family=FONT, size=24, color="black"), tickmode="array")
    layout["xaxis" + n] = dict(common, domain=[fx(c0), fx(c1)], range=p["xr"], anchor=ya,
                               tickvals=p["xt"][0], ticktext=p["xt"][1], ticklabelstandoff=-4)
    layout["yaxis" + n] = dict(common, domain=[fy(r1), fy(r0)], range=p["yr"], anchor=xa,
                               tickvals=p["yt"][0], ticktext=p["yt"][1], ticklabelstandoff=-5)
    annotations.append(ann(eq1[i], p["e1"][0], p["e1"][1], 21.5, p["e1"][2]))
    annotations.append(ann(eq2[i], p["e2"][0], p["e2"][1], 21.5, p["e2"][2]))
    annotations.append(ann(labels[i], p["lab"][0], p["lab"][1], 25, "center"))
    annotations.append(ann(xtitles[i], (c0 + c1) / 2, p["xtitle_y"], 24, "center"))
    annotations.append(ann(ytitles[i], p["ytitle"][0], p["ytitle"][1], 24, "center", angle=-90))

fig.update_layout(width=W, height=H, margin=dict(l=0, r=0, t=0, b=0), autosize=False,
                  template="none", paper_bgcolor="white", plot_bgcolor="white",
                  hovermode=False, annotations=annotations, **layout)

fig.write_html("out.html", config={"displayModeBar": False, "staticPlot": True},
               post_script="document.body.style.margin='0px';document.body.style.overflow='hidden';")
